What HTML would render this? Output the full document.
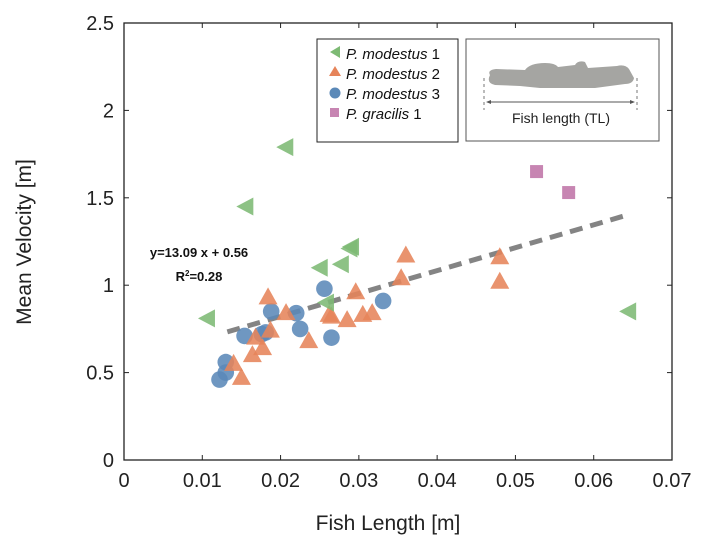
<!DOCTYPE html>
<html><head><meta charset="utf-8"><style>
html,body{margin:0;padding:0;background:#fff;}
svg{display:block;font-family:"Liberation Sans",Arial,sans-serif;}
</style></head><body>
<svg id="chart" width="726" height="548" viewBox="0 0 726 548">
<g id="marks"></g>
<g id="axes"></g>
<text x="388" y="530" text-anchor="middle" font-size="21" fill="#222">Fish Length [m]</text>
<text transform="translate(31,242) rotate(-90)" text-anchor="middle" font-size="21" fill="#222">Mean Velocity [m]</text>
<text x="199" y="257" text-anchor="middle" font-size="13" font-weight="bold" fill="#111">y=13.09 x + 0.56</text>
<text x="199" y="281" text-anchor="middle" font-size="13" font-weight="bold" fill="#111">R<tspan font-size="8" dy="-5">2</tspan><tspan dy="5">=0.28</tspan></text>
<g>
<rect x="317" y="39" width="141" height="103" fill="#fff" stroke="#222" stroke-width="1"/>
<polygon points="330,52 340,46 340,58" fill="#7dba74"/>
<text x="346" y="59" font-size="15" fill="#111"><tspan font-style="italic">P. modestus</tspan> 1</text>
<polygon points="335,66 341,76 329,76" fill="#e6845a"/>
<text x="346" y="79" font-size="15" fill="#111"><tspan font-style="italic">P. modestus</tspan> 2</text>
<circle cx="335" cy="93" r="5.5" fill="#5b89b8"/>
<text x="346" y="99" font-size="15" fill="#111"><tspan font-style="italic">P. modestus</tspan> 3</text>
<rect x="330" y="108" width="9" height="9" fill="#c785b2"/>
<text x="346" y="119" font-size="15" fill="#111"><tspan font-style="italic">P. gracilis</tspan> 1</text>
</g>
<g>
<rect x="466" y="39" width="193" height="102" fill="#fff" stroke="#555" stroke-width="1"/>
<path d="M490,75 Q487,70 496,69 L525,70 Q530,63 545,63 Q555,63 558,67 L575,65 Q578,60 585,62 L588,68 L617,66 Q625,64 629,69 L634,78 Q633,84 625,84 L595,88 L540,88 L520,86 L495,85 Q486,83 490,75 Z" fill="#a5a5a2"/>
<line x1="484" y1="78" x2="484" y2="110" stroke="#777" stroke-dasharray="3,3"/>
<line x1="637" y1="78" x2="637" y2="110" stroke="#777" stroke-dasharray="3,3"/>
<line x1="488" y1="102" x2="633" y2="102" stroke="#555" stroke-width="1"/>
<polygon points="486,102 491,100 491,104" fill="#555"/>
<polygon points="635,102 630,100 630,104" fill="#555"/>
<text x="561" y="123" text-anchor="middle" font-size="14" fill="#222">Fish length (TL)</text>
</g>
</svg>
<script>
const xTicks=[0,0.01,0.02,0.03,0.04,0.05,0.06,0.07];
const xTickLabels=["0","0.01","0.02","0.03","0.04","0.05","0.06","0.07"];
const yTicks=[0,0.5,1,1.5,2,2.5];
const yTickLabels=["0","0.5","1","1.5","2","2.5"];
const m1X=[0.0106,0.0155,0.0206,0.025,0.0277,0.0288,0.029,0.0258,0.0644];
const m1Y=[0.81,1.45,1.79,1.10,1.12,1.21,1.22,0.90,0.85];
const m2X=[0.0184,0.0207,0.0140,0.0150,0.0164,0.0177,0.0168,0.0187,0.0236,0.0265,0.0285,0.0296,0.0305,0.0317,0.0354,0.0360,0.0480,0.0480,0.0262];
const m2Y=[0.93,0.84,0.55,0.47,0.60,0.64,0.70,0.74,0.68,0.82,0.80,0.96,0.83,0.84,1.04,1.17,1.16,1.02,0.83];
const m3X=[0.0122,0.0130,0.0130,0.0154,0.0176,0.0181,0.0188,0.0220,0.0225,0.0256,0.0265,0.0331];
const m3Y=[0.46,0.50,0.56,0.71,0.72,0.73,0.85,0.84,0.75,0.98,0.70,0.91];
const g1X=[0.0527,0.0568];
const g1Y=[1.65,1.53];
const fitSlope=13.09, fitIntercept=0.56, fitRange=[0.0132,0.0638];

const L=124,R=672,T=23,B=460;
const sx=v=>L+(v-0)/0.07*(R-L);
const sy=v=>B-(v-0)/2.5*(B-T);
const NS="http://www.w3.org/2000/svg";
const marks=document.getElementById('marks'), axes=document.getElementById('axes');
function mk(tag,attrs,parent){const e=document.createElementNS(NS,tag);for(const k in attrs)e.setAttribute(k,attrs[k]);parent.appendChild(e);return e;}

// fit line
const fl=mk('line',{x1:sx(fitRange[0]),y1:sy(fitSlope*fitRange[0]+fitIntercept),x2:sx(fitRange[1]),y2:sy(fitSlope*fitRange[1]+fitIntercept),stroke:'#6f6f6f','stroke-width':5,'stroke-dasharray':'13,8',opacity:0.85},marks);



m3X.forEach((x,i)=>{const e=mk('circle',{cx:sx(x),cy:sy(m3Y[i]),r:8.3,fill:'#5b89b8','fill-opacity':0.88},marks);

});
m2X.forEach((x,i)=>{const cx=sx(x),cy=sy(m2Y[i]);const e=mk('polygon',{points:`${cx},${cy-10} ${cx+9.5},${cy+7} ${cx-9.5},${cy+7}`,fill:'#e6845a','fill-opacity':0.88},marks);

});
m1X.forEach((x,i)=>{const cx=sx(x),cy=sy(m1Y[i]);const e=mk('polygon',{points:`${cx-9},${cy} ${cx+8},${cy-9} ${cx+8},${cy+9}`,fill:'#7dba74','fill-opacity':0.88},marks);

});
g1X.forEach((x,i)=>{const e=mk('rect',{x:sx(x)-6.5,y:sy(g1Y[i])-6.5,width:13,height:13,fill:'#c785b2'},marks);

});

const frame=mk('rect',{x:L,y:T,width:R-L,height:B-T,fill:'none',stroke:'#222','stroke-width':1.3},axes);


xTicks.forEach((v,i)=>{const x=sx(v);
mk('line',{x1:x,y1:B,x2:x,y2:B-5,stroke:'#222'},axes);mk('line',{x1:x,y1:T,x2:x,y2:T+5,stroke:'#222'},axes);
const t=mk('text',{x:x,y:B+27,'text-anchor':'middle','font-size':20,fill:'#222'},axes);t.textContent=xTickLabels[i];

});
yTicks.forEach((v,i)=>{const y=sy(v);
mk('line',{x1:L,y1:y,x2:L+5,y2:y,stroke:'#222'},axes);mk('line',{x1:R,y1:y,x2:R-5,y2:y,stroke:'#222'},axes);
const t=mk('text',{x:L-10,y:y+7,'text-anchor':'end','font-size':20,fill:'#222'},axes);t.textContent=yTickLabels[i];

});
</script>
</body></html>
